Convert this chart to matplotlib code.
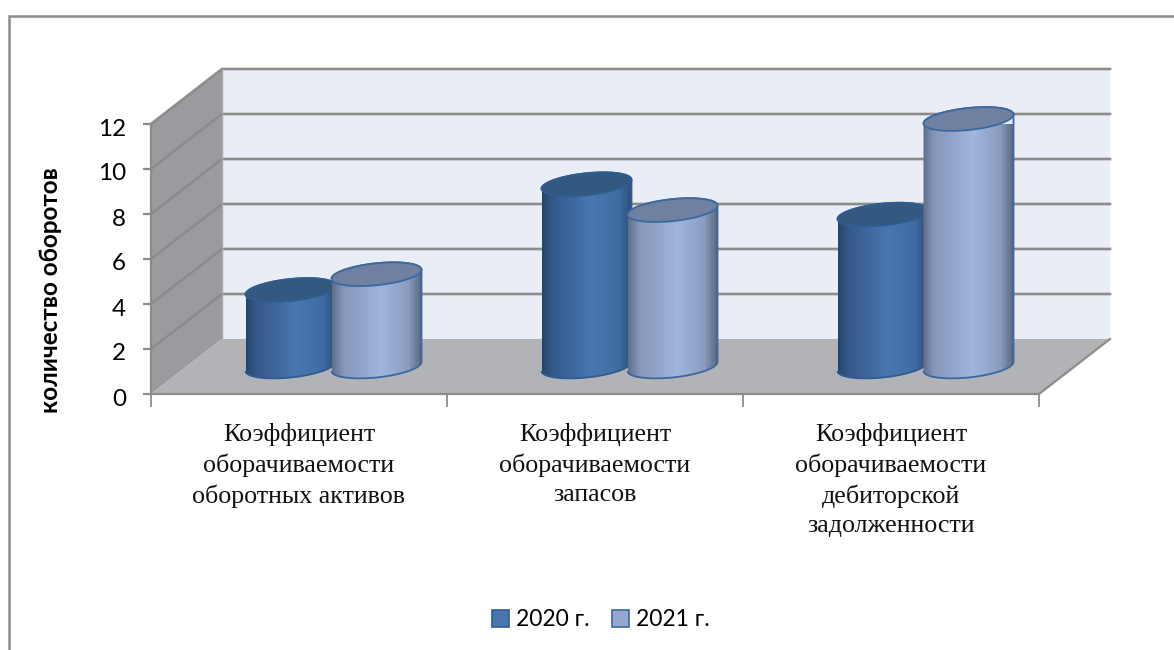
import numpy as np
import matplotlib
matplotlib.use('Agg')
import matplotlib.pyplot as plt
from matplotlib.patches import Patch, PathPatch, Polygon
from matplotlib.path import Path
from matplotlib.lines import Line2D
from matplotlib.transforms import ScaledTranslation

categories = ['Коэффициент\nоборачиваемости\nоборотных активов',
              'Коэффициент\nоборачиваемости\nзапасов',
              'Коэффициент\nоборачиваемости\nдебиторской\nзадолженности']
series_names = ['2020 г.', '2021 г.']
values_2020 = [3.4, 8.1, 6.75]
values_2021 = [4.1, 6.95, 11.0]
y_ticks = [0, 2, 4, 6, 8, 10, 12]
y_label = 'количество оборотов'

W, H = 1174, 650
SANS = ['Lato', 'Noto Sans', 'DejaVu Sans']

fig = plt.figure(figsize=(W / 100, H / 100), dpi=100, facecolor='white')
# front plane of the 3d box, in pixels
left, right, bottom, top = 151, 1039, 394, 124
ax = fig.add_axes([left / W, 1 - bottom / H, (right - left) / W, (bottom - top) / H])
ax.patch.set_visible(False)
x0, x1 = -0.5, 2.5
y_max = 12
unit_x = (right - left) / 3
unit_y = (bottom - top) / y_max
dx = 71 / unit_x
dy = 55 / unit_y

grid = '#8c8c8c'
ax.add_patch(Polygon([(x0 + dx, dy), (x1 + dx, dy), (x1 + dx, y_max + dy), (x0 + dx, y_max + dy)],
                     fc='#e9edf6', ec='none', clip_on=False, zorder=1))
ax.add_patch(Polygon([(x0, 0), (x0 + dx, dy), (x0 + dx, y_max + dy), (x0, y_max)],
                     fc='#999b9e', ec='none', clip_on=False, zorder=1))
ax.add_patch(Polygon([(x0, 0), (x1, 0), (x1 + dx, dy), (x0 + dx, dy)],
                     fc='#b1b3b6', ec='none', clip_on=False, zorder=1))
for v in y_ticks[1:]:
    ax.plot([x0, x0 + dx, x1 + dx], [v, v + dy, v + dy], color=grid, lw=1.9,
            clip_on=False, zorder=2, solid_joinstyle='miter')
ax.plot([x0, x0], [0, y_max], color=grid, lw=1.6, clip_on=False, zorder=2)
ax.plot([x0, x1, x1 + dx], [0, 0, dy], color=grid, lw=1.6, clip_on=False, zorder=2)
ax.plot([x0 + dx, x0 + dx], [dy, y_max + dy], color='#a8a8a8', lw=1, clip_on=False, zorder=2)


def cylinder(xc, value, side_cols, top_col, edge, z):
    # cylinder stands in the middle of the depth
    rx = 45 / unit_x
    ry = 11 / unit_y
    tilt = 4.5 / unit_y
    base = dy / 2
    t = np.linspace(0, 2 * np.pi, 121)
    ex = xc + rx * np.cos(t)
    top_y = base + value + ry * np.sin(t) + tilt * np.cos(t)
    low = np.linspace(np.pi, 2 * np.pi, 61)
    up = np.linspace(0, np.pi, 61)
    side_x = np.r_[xc + rx * np.cos(low), xc + rx * np.cos(up)]
    side_y = np.r_[base + ry * np.sin(low) + tilt * np.cos(low),
                   base + value + ry * np.sin(up) + tilt * np.cos(up)]
    outline = Path(np.column_stack([side_x, side_y]), closed=False)
    patch = PathPatch(outline, fc='none', ec=edge, lw=1.3, clip_on=False, zorder=z + 0.2)
    ax.add_patch(patch)
    stops = np.array([0, 0.12, 0.55, 0.85, 1])
    pos = np.linspace(0, 1, 200)
    grad = np.stack([np.interp(pos, stops, [c[i] for c in side_cols]) for i in range(3)], axis=-1)[None, :, :]
    im = ax.imshow(grad, extent=[xc - rx, xc + rx, base - 0.8, base + value + 0.8],
                   aspect='auto', zorder=z, clip_on=True)
    im.set_clip_path(PathPatch(outline, transform=ax.transData))
    ax.add_patch(Polygon(np.column_stack([ex, top_y]), fc=top_col, ec=edge, lw=1.3,
                         clip_on=False, zorder=z + 0.3))


def rgb(c):
    return matplotlib.colors.to_rgb(c)


side_2020 = [rgb(c) for c in ['#264466', '#34598a', '#4877b0', '#3f6da3', '#2c4f78']]
side_2021 = [rgb(c) for c in ['#5f6e88', '#8596b8', '#9fb6de', '#8a9dc0', '#566580']]
offset = 43 / unit_x
for i in range(len(categories)):
    xc = i + dx / 2 - 1 / unit_x
    cylinder(xc - offset, values_2020[i], side_2020, '#345981', '#2f5d92', 5 + i)
    cylinder(xc + offset, values_2021[i], side_2021, '#6f80a0', '#3a689f', 5.5 + i)

ax.set_xlim(x0, x1)
ax.set_ylim(0, y_max)
for s in ax.spines.values():
    s.set_visible(False)
ax.set_yticks(y_ticks)
ax.set_xticks([-0.5, 0.5, 1.5, 2.5])
ax.set_xticklabels([])
ax.set_xticks([0, 1, 2], minor=True)
ax.set_xticklabels(categories, minor=True, fontfamily='Liberation Serif', fontsize=18.7,
                   linespacing=1.4, color='#111111')
ax.tick_params(axis='x', which='major', length=9, width=1.3, color=grid)
ax.tick_params(axis='x', which='minor', length=0, pad=21)
ax.tick_params(axis='y', length=6, width=1.6, color=grid, pad=12)
shift = ScaledTranslation(0, -3 / 100, fig.dpi_scale_trans)
for lab in ax.get_yticklabels():
    lab.set_fontfamily(SANS)
    lab.set_fontsize(17.5)
    lab.set_color('black')
    lab.set_transform(lab.get_transform() + shift)
ax.set_ylabel(y_label, fontfamily=SANS, fontweight='bold', fontsize=17.5)
ax.yaxis.set_label_coords(62 / W, 1 - 290 / H, transform=fig.transFigure)

# chart area border, open at the right and bottom
fig.add_artist(Line2D([9 / W, 9 / W, 1], [0, 1 - 16 / H, 1 - 16 / H], color='#8c8c8c', lw=1.8,
                      solid_joinstyle='miter'))

handles = [Patch(fc='#4676ae', ec='#2f5d92', lw=1.2), Patch(fc='#95a8d2', ec='#3a689f', lw=1.2)]
fig.legend(handles, series_names, loc='center', bbox_to_anchor=(601 / W, 1 - 620 / H), ncol=2,
           frameon=False, handlelength=0.74, handleheight=0.74, handletextpad=0.3, columnspacing=1.0,
           prop={'family': SANS, 'size': 16.5})

fig.savefig('out.png', dpi=100)
